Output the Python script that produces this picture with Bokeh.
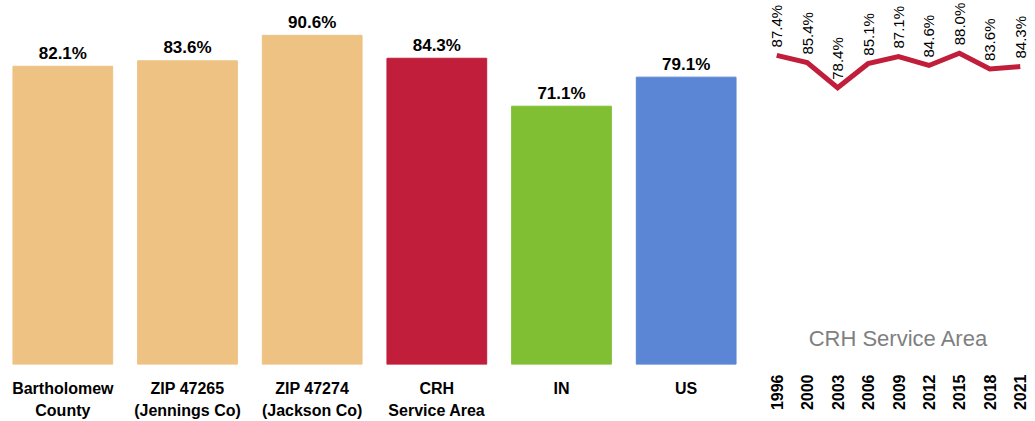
import math
from bokeh.plotting import figure
from bokeh.models import FactorRange, Range1d, ColumnDataSource
from bokeh.layouts import row
from bokeh.core.properties import value
from bokeh.embed import file_html
from bokeh.resources import INLINE

# ---- data ----
categories = ["Bartholomew\nCounty", "ZIP 47265\n(Jennings Co)", "ZIP 47274\n(Jackson Co)",
              "CRH\nService Area", "IN", "US"]
rates = [82.1, 83.6, 90.6, 84.3, 71.1, 79.1]
bar_colors = ["#EDC283", "#EDC283", "#EDC283", "#C01E3B", "#80BF33", "#5B86D6"]

years = ["1996", "2000", "2003", "2006", "2009", "2012", "2015", "2018", "2021"]
trend = [87.4, 85.4, 78.4, 85.1, 87.1, 84.6, 88.0, 83.6, 84.3]
trend_title = "CRH Service Area"

bar_labels = [f"{v:.1f}%" for v in rates]
trend_labels = [f"{v:.1f}%" for v in trend]

FONT = "Liberation Sans"
CRIMSON = "#C01E3B"

def style_axes(p):
    p.yaxis.visible = False
    p.xgrid.grid_line_color = None
    p.ygrid.grid_line_color = None
    ax = p.xaxis[0]
    ax.axis_line_color = None
    ax.major_tick_line_color = None
    ax.minor_tick_line_color = None
    ax.major_tick_out = 0
    ax.major_tick_in = 0
    ax.minor_tick_out = 0
    ax.minor_tick_in = 0
    ax.major_label_text_font = FONT
    ax.major_label_text_font_style = "bold"
    ax.major_label_text_font_size = "16px"
    ax.major_label_text_color = "#000000"

# ---- bar chart ----
src = ColumnDataSource(dict(cat=categories, val=rates, color=bar_colors, label=bar_labels))
p1 = figure(width=748, height=421,
            x_range=FactorRange(factors=categories),
            y_range=Range1d(0, 100.2),
            output_backend="svg", toolbar_location=None,
            min_border_left=0, min_border_right=0, min_border_top=0, min_border_bottom=56,
            outline_line_color=None)
p1.vbar(x="cat", top="val", width=0.8, color="color", source=src)
p1.text(x="cat", y="val", text="label", source=src, text_align="center",
        text_baseline="alphabetic", y_offset=-13,
        text_font=value(FONT), text_font_style="bold", text_font_size="17px",
        text_color="#000000")
style_axes(p1)
p1.xaxis.major_label_standoff = 15
p1.xaxis.major_label_text_line_height = 1.3

# ---- trend line ----
src2 = ColumnDataSource(dict(year=years, val=trend, label=trend_labels))
p2 = figure(width=287, height=421,
            x_range=FactorRange(factors=years),
            y_range=Range1d(1.3, 102.7),
            output_backend="svg", toolbar_location=None,
            min_border_left=13, min_border_right=0, min_border_top=0, min_border_bottom=56,
            outline_line_color=None)
p2.line(x="year", y="val", source=src2, line_width=5, line_color=CRIMSON, line_join="miter")
p2.text(x="year", y="val", text="label", source=src2, angle=math.pi / 2,
        text_align="left", text_baseline="middle", y_offset=-8,
        text_font=value(FONT), text_font_size="15px", text_color="#000000")
p2.text(x=[years[4]], y=[8.5], text=[trend_title], text_align="center", text_baseline="middle",
        text_font=value(FONT), text_font_size="22px", text_color="#7F7F7F")
style_axes(p2)
p2.xaxis.major_label_orientation = math.pi / 2
p2.xaxis.major_label_standoff = 10

layout = row(p1, p2)
open("out.html", "w").write(file_html(layout, INLINE))
